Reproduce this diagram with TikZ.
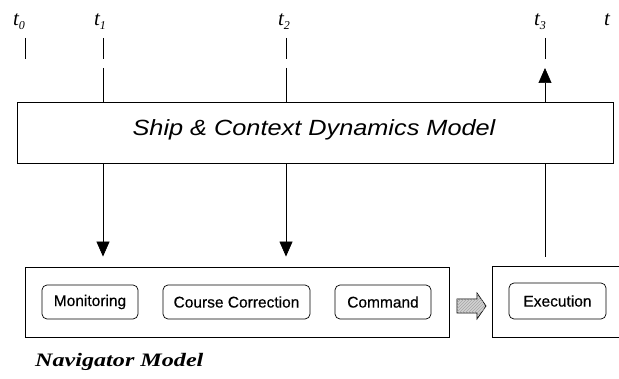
\documentclass[tikz,border=0pt]{standalone}
\usepackage{fontspec}
\setmainfont{Liberation Serif}
\setsansfont{Liberation Sans}
\usetikzlibrary{arrows.meta,patterns}
\newcommand{\tsub}[1]{\raisebox{-0.4ex}{\fontsize{12}{12}\selectfont #1}}
\begin{document}
\begin{tikzpicture}[x=1pt,y=-1pt,
  tlabel/.style={font=\fontsize{21}{21}\selectfont\itshape, inner sep=0pt, anchor=center},
  tickline/.style={line width=0.7pt},
  conn/.style={line width=0.7pt},
  arr/.style={conn, -{Triangle[length=15pt,width=13pt]}},
  bigbox/.style={draw, line width=0.9pt, inner sep=0pt},
  innerbox/.style={draw, line width=0.7pt, rounded corners=5pt, inner sep=0pt,
     font=\sffamily\fontsize{15.5}{15.5}\selectfont\addfontfeature{FakeBold=0.4}},
]
\useasboundingbox (0,0) rectangle (619,379);
\begin{scope}
\clip (0,0) rectangle (619,379);
% time labels
\node[tlabel] (lt0) at (19,22) {t\tsub{0}};
\node[tlabel] (lt1) at (100,22) {t\tsub{1}};
\node[tlabel] (lt2) at (284,22) {t\tsub{2}};
\node[tlabel] (lt3) at (540,22) {t\tsub{3}};
\node[tlabel] (lt) at (607,20) {t};
% ticks
\coordinate (k0a) at (25,38); \coordinate (k0b) at (25,59);
\coordinate (k1a) at (103,38); \coordinate (k1b) at (103,59);
\coordinate (k2a) at (286,38); \coordinate (k2b) at (286,59);
\coordinate (k3a) at (545,38); \coordinate (k3b) at (545,59);
\draw[tickline] (k0a) -- (k0b);
\draw[tickline] (k1a) -- (k1b);
\draw[tickline] (k2a) -- (k2b);
\draw[tickline] (k3a) -- (k3b);
% ship box
\node[bigbox, minimum width=596pt, minimum height=61pt] (ship) at (315,132.5) {};
\node[font=\sffamily\itshape\fontsize{22}{22}\selectfont, inner sep=0pt] (shiptxt) at (314,130)
  {\scalebox{1.15}[1]{Ship \& Context Dynamics Model}};
% navigator box
\node[bigbox, minimum width=424pt, minimum height=70pt] (nav) at (237,302) {};
\node[innerbox, minimum width=96pt, minimum height=34pt] (mon) at (90,302) {Monitoring};
\node[innerbox, minimum width=147pt, minimum height=34pt] (cor) at (236.5,302) {Course Correction};
\node[innerbox, minimum width=96pt, minimum height=34pt] (com) at (383,302) {Command};
% execution box
\node[bigbox, minimum width=134pt, minimum height=71pt] (exo) at (559,301.5) {};
\node[innerbox, minimum width=97pt, minimum height=36pt] (exe) at (557.5,301) {Execution};
% navigator label
\node[font=\fontsize{19}{19}\selectfont\bfseries\itshape, anchor=west, inner sep=0pt] (navlbl) at (35,362)
  {\scalebox{1.27}[1]{Navigator Model}};
% connectors
\coordinate (c1) at (103,68);
\coordinate (c2) at (286,68);
\coordinate (c3) at (545,68);
\draw[conn] (c1) -- (c1 |- ship.north);
\draw[conn] (c2) -- (c2 |- ship.north);
\draw[arr] (c1 |- ship.south) -- ([yshift=10pt]c1 |- nav.north);
\draw[arr] (c2 |- ship.south) -- ([yshift=10pt]c2 |- nav.north);
\draw[conn] ([yshift=9pt]c3 |- exo.north) -- (c3 |- ship.south);
\draw[arr] (c3 |- ship.north) -- (c3);
% hatched transfer arrow
\coordinate (ha) at (457,306);
\coordinate (hb) at (486,306);
\draw[line width=0.7pt, fill=gray!35, postaction={pattern=north east lines, pattern color=gray!70}]
  (ha) ++(0,-7) -- ++(20,0) -- ++(0,-6) -- (hb) -- ++(-9,13) -- ++(0,-6) -- ++(-20,0) -- cycle;
\end{scope}
\end{tikzpicture}
\end{document}
